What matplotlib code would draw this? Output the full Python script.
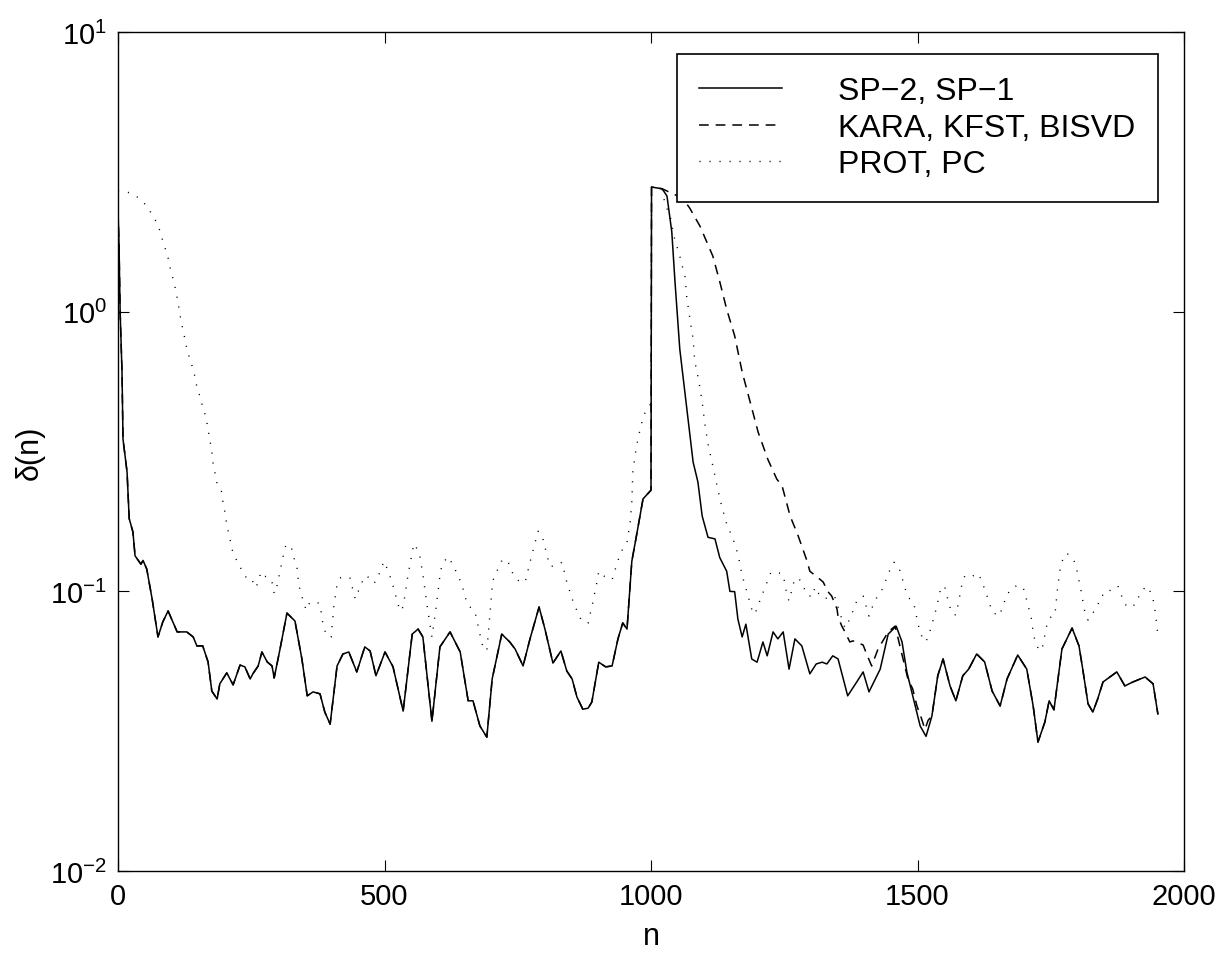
import numpy as np
import matplotlib
matplotlib.use("Agg")
import matplotlib.pyplot as plt

plt.rcParams['font.family'] = ['Liberation Sans', 'DejaVu Sans']
plt.rcParams['mathtext.fontset'] = 'custom'
plt.rcParams['mathtext.rm'] = 'Liberation Sans'
plt.rcParams['lines.scale_dashes'] = False

# ---- SP-2, SP-1 (solid) ----
sp_n = [0, 2, 4, 7.5, 9.4, 17, 21, 28, 32, 43, 47, 54, 64, 66, 75, 84, 94, 111, 129, 141, 148, 159,
        169, 176, 186, 191, 204, 216, 229, 238, 248, 253, 263, 270, 280, 289, 293, 304, 317, 332,
        345, 355, 366, 379, 388, 398, 411, 422, 433, 448, 463, 473, 484, 501, 516, 535, 552, 563,
        572, 589, 604, 623, 642, 657, 666, 679, 692, 702, 720, 735, 745, 760, 773, 790, 801, 816,
        831, 842, 852, 861, 872, 882, 889, 902, 915, 927, 938, 947, 955, 964, 974, 985, 1000,
        1001, 1021, 1030, 1039, 1045, 1054, 1060, 1069, 1079, 1088, 1096, 1107, 1120, 1129, 1142,
        1148, 1157, 1163, 1171, 1178, 1189, 1199, 1210, 1218, 1229, 1238, 1248, 1259, 1270, 1283,
        1298, 1310, 1321, 1330, 1341, 1351, 1369, 1386, 1398, 1409, 1430, 1445, 1460, 1467, 1471,
        1480, 1491, 1505, 1516, 1527, 1538, 1548, 1561, 1572, 1585, 1596, 1611, 1626, 1640, 1655,
        1668, 1688, 1705, 1717, 1726, 1739, 1747, 1756, 1771, 1790, 1803, 1810, 1820, 1829, 1838,
        1848, 1874, 1889, 1904, 1927, 1942, 1951]
sp_d = [2.3, 1.7, 1.0, 0.61, 0.35, 0.267, 0.182, 0.163, 0.134, 0.125, 0.129, 0.120, 0.094, 0.0887,
        0.0687, 0.0777, 0.0851, 0.0716, 0.0716, 0.0687, 0.0638, 0.0638, 0.0559, 0.0440, 0.0412,
        0.0467, 0.0511, 0.0463, 0.0545, 0.0537, 0.0486, 0.0507, 0.0541, 0.0607, 0.0559, 0.0541,
        0.0490, 0.0622, 0.0836, 0.0783, 0.0573, 0.0423, 0.0437, 0.0430, 0.0370, 0.0335, 0.0541,
        0.0597, 0.0607, 0.0515, 0.0633, 0.0612, 0.0499, 0.0607, 0.0537, 0.0373, 0.0703, 0.0733,
        0.0687, 0.0343, 0.0633, 0.0716, 0.0607, 0.0406, 0.0406, 0.0330, 0.0301, 0.0486, 0.0703,
        0.0659, 0.0622, 0.0541, 0.0676, 0.0879, 0.0733, 0.0554, 0.0612, 0.0519, 0.0486, 0.0419,
        0.0379, 0.0382, 0.0402, 0.0558, 0.0537, 0.0541, 0.0676, 0.0771, 0.0733, 0.128, 0.163,
        0.214, 0.230,
        2.79, 2.75, 2.59, 1.93, 1.28, 0.735, 0.589, 0.424, 0.290, 0.246, 0.186, 0.156, 0.154,
        0.132, 0.118, 0.100, 0.0997, 0.0796, 0.0687, 0.0763, 0.0573, 0.0558, 0.0659, 0.0588,
        0.0716, 0.0676, 0.0716, 0.0527, 0.0676, 0.0638, 0.0507, 0.0550, 0.0558, 0.0550, 0.0588,
        0.0573, 0.0423, 0.0474, 0.0515, 0.0437, 0.0527, 0.0703, 0.0751, 0.0692, 0.0659, 0.0515,
        0.0423, 0.0330, 0.0303, 0.0358, 0.0499, 0.0573, 0.0459, 0.0406, 0.0499, 0.0527, 0.0597,
        0.0559, 0.0440, 0.0389, 0.0486, 0.0592, 0.0527, 0.0389, 0.0289, 0.0341, 0.0406, 0.0377,
        0.0622, 0.0739, 0.0638, 0.0527, 0.0396, 0.0370, 0.0412, 0.0474, 0.0515, 0.0459, 0.0474,
        0.0494, 0.0467, 0.0364]

# ---- KARA, KFST, BISVD (dashed) : part where it departs from the solid curve ----
kara_mid_n = [1060, 1073, 1092, 1116, 1129, 1142, 1157, 1171, 1186, 1201, 1219, 1236, 1246, 1261,
              1276, 1293, 1298, 1313, 1323, 1332, 1339, 1349, 1351, 1358, 1364, 1373, 1379, 1398,
              1403, 1414, 1426, 1445, 1458, 1482, 1491, 1499, 1506, 1514, 1520]
kara_mid_d = [2.54, 2.34, 2.02, 1.58, 1.28, 1.02, 0.819, 0.609, 0.475, 0.371, 0.297, 0.252, 0.238,
              0.186, 0.158, 0.128, 0.118, 0.112, 0.108, 0.0997, 0.0962, 0.0865, 0.0810, 0.0751,
              0.0716, 0.0659, 0.0665, 0.0643, 0.0607, 0.0541, 0.0622, 0.0716, 0.0751, 0.0486,
              0.0448, 0.0389, 0.0358, 0.0321, 0.0346]

# ---- PROT, PC (dotted) ----
prot_n = [0, 4, 23, 39, 54, 64, 71, 79, 84, 90, 96, 99, 105, 109, 113, 116, 120, 124, 128, 133, 139,
          144, 148, 154, 159, 165, 169, 173, 176, 178, 182, 186, 195, 197, 201, 204, 208, 212, 216,
          225, 234, 242, 251, 257, 263, 268, 274, 281, 291, 293, 298, 302, 306, 310, 315, 325, 330,
          336, 338, 341, 347, 353, 358, 368, 379, 385, 392, 400, 405, 411, 418, 435, 445, 458, 467,
          477, 484, 499, 507, 514, 529, 535, 544, 555, 565, 572, 580, 589, 597, 604, 608, 619, 628,
          645, 655, 670, 683, 692, 698, 703, 719, 730, 743, 754, 764, 773, 788, 795, 805, 810, 820,
          833, 842, 854, 863, 870, 882, 891, 899, 902, 914, 927, 938, 947, 955, 961, 964, 966, 972,
          976, 981, 985, 994, 1000,
          1001, 1021, 1026, 1036, 1043, 1054, 1064, 1067, 1073, 1079, 1082, 1090, 1096, 1101, 1107,
          1116, 1124, 1133, 1142, 1154, 1163, 1171, 1180, 1191, 1195, 1204, 1218, 1225, 1236, 1248,
          1255, 1259, 1268, 1276, 1285, 1291, 1302, 1308, 1315, 1326, 1336, 1345, 1358, 1364, 1373,
          1386, 1398, 1403, 1409, 1416, 1424, 1433, 1441, 1448, 1456, 1465, 1471, 1476, 1484, 1493,
          1501, 1506, 1514, 1520, 1525, 1531, 1536, 1544, 1551, 1559, 1565, 1572, 1576, 1583, 1589,
          1602, 1613, 1621, 1627, 1634, 1640, 1653, 1660, 1666, 1675, 1687, 1698, 1703, 1707, 1713,
          1718, 1728, 1735, 1743, 1752, 1758, 1762, 1767, 1771, 1780, 1793, 1799, 1807, 1814, 1820,
          1829, 1838, 1846, 1852, 1865, 1876, 1883, 1889, 1897, 1910, 1917, 1929, 1940, 1944, 1947,
          1951]
prot_d = [2.70, 2.70, 2.66, 2.55, 2.39, 2.22, 2.11, 1.94, 1.79, 1.65, 1.51, 1.39, 1.28, 1.17, 1.07,
          0.98, 0.896, 0.826, 0.754, 0.695, 0.640, 0.589, 0.538, 0.496, 0.456, 0.420, 0.380, 0.342,
          0.315, 0.290, 0.265, 0.242, 0.226, 0.208, 0.190, 0.174, 0.160, 0.148, 0.136, 0.127, 0.117,
          0.111, 0.111, 0.103, 0.107, 0.117, 0.113, 0.113, 0.106, 0.098, 0.104, 0.113, 0.123, 0.134,
          0.147, 0.144, 0.132, 0.121, 0.111, 0.102, 0.0931, 0.0857, 0.0901, 0.0923, 0.0901, 0.0751,
          0.0692, 0.0686, 0.0886, 0.106, 0.112, 0.112, 0.0939, 0.108, 0.114, 0.107, 0.108, 0.128,
          0.118, 0.108, 0.0850, 0.0879, 0.114, 0.148, 0.138, 0.115, 0.0886, 0.0686, 0.0879, 0.114,
          0.125, 0.133, 0.125, 0.106, 0.0901, 0.0843, 0.0648, 0.0612, 0.0836, 0.109, 0.128, 0.130,
          0.113, 0.108, 0.108, 0.127, 0.164, 0.160, 0.134, 0.123, 0.123, 0.127, 0.108, 0.0916,
          0.0836, 0.0783, 0.0770, 0.0916, 0.109, 0.118, 0.1125, 0.110, 0.129, 0.142, 0.150, 0.177,
          0.209, 0.269, 0.323, 0.356, 0.387, 0.420, 0.456, 0.468,
          2.79, 2.75, 2.43, 2.20, 1.86, 1.58, 1.33, 1.13, 0.942, 0.798, 0.667, 0.561, 0.476, 0.397,
          0.336, 0.281, 0.238, 0.200, 0.174, 0.154, 0.136, 0.114, 0.0994, 0.0836, 0.0830, 0.0923,
          0.108, 0.117, 0.117, 0.115, 0.0970, 0.0923, 0.108, 0.112, 0.106, 0.0978, 0.0954, 0.1036,
          0.0978, 0.0939, 0.0962, 0.0954, 0.0796, 0.0739, 0.0796, 0.0923, 0.0962, 0.0893, 0.0816,
          0.0886, 0.0954, 0.101, 0.110, 0.119, 0.127, 0.122, 0.112, 0.103, 0.0946, 0.0908, 0.0764,
          0.0704, 0.0659, 0.0681, 0.0739, 0.0810, 0.0879, 0.1036, 0.104, 0.0901, 0.0830, 0.0823,
          0.0893, 0.105, 0.114, 0.113, 0.116, 0.109, 0.100, 0.0923, 0.0843, 0.0816, 0.0879, 0.0954,
          0.102, 0.105, 0.1036, 0.0962, 0.0893, 0.0816, 0.0692, 0.0612, 0.0638, 0.0764, 0.0823,
          0.0830, 0.0994, 0.118, 0.128, 0.137, 0.130, 0.119, 0.100, 0.0843, 0.0789, 0.0836, 0.0893,
          0.0970, 0.0962, 0.1027, 0.1045, 0.0962, 0.0901, 0.0872, 0.0901, 0.0978, 0.1045, 0.0978,
          0.0893, 0.0823, 0.0692]

labels = ['SP\u22122, SP\u22121', 'KARA, KFST, BISVD', 'PROT, PC']
x_ticks = [0, 500, 1000, 1500, 2000]

sp_n = np.array(sp_n, float); sp_d = np.array(sp_d, float)
pre = sp_n <= 1021
post = sp_n >= 1527
kara_n = np.concatenate([sp_n[pre], kara_mid_n, sp_n[post]])
kara_d = np.concatenate([sp_d[pre], kara_mid_d, sp_d[post]])

fig = plt.figure(figsize=(12.31, 9.54), dpi=100)
ax = fig.add_axes([118 / 1231, 1 - 872 / 954, (1184 - 118) / 1231, (872 - 33) / 954])

ax.plot(sp_n, sp_d, color='black', lw=1.1, ls='-', label=labels[0])
ax.plot(kara_n, kara_d, color='black', lw=1.1, ls=(0, (7, 5)), label=labels[1])
ax.plot(prot_n, prot_d, color='black', lw=1.0, ls=(0, (0.8, 6.4)), label=labels[2])

ax.set_yscale('log')
ax.set_xlim(0, 2000)
ax.set_ylim(1e-2, 1e1)
ax.set_xticks(x_ticks)
ax.set_yticks([1e-2, 1e-1, 1e0, 1e1])
ax.yaxis.set_minor_locator(matplotlib.ticker.NullLocator())
ax.tick_params(direction='in', length=8, width=0.8, top=True, right=True, labelsize=21, pad=8)
for s in ax.spines.values():
    s.set_linewidth(1.0)

ax.set_xlabel('n', fontsize=22, labelpad=8)
ax.set_ylabel('\u03b4(n)', fontsize=22, labelpad=4)

leg = ax.legend(loc='upper right', bbox_to_anchor=(1158 / 1231, 1 - 55 / 954),
                bbox_transform=fig.transFigure, borderaxespad=0, fontsize=23,
                handlelength=2.6, handletextpad=1.75, labelspacing=0.2, borderpad=0.7,
                fancybox=False, framealpha=1, edgecolor='black')
leg.get_frame().set_linewidth(1.2)

fig.savefig('out.png', dpi=100)
